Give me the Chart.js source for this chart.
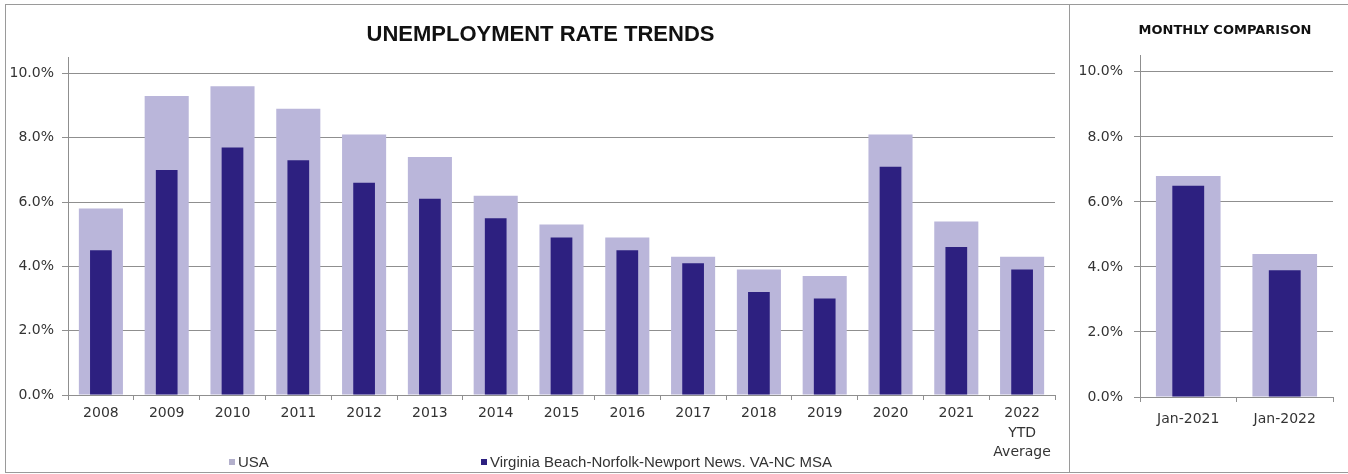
<!DOCTYPE html>
<html>
<head>
<meta charset="utf-8">
<script src="https://cdn.jsdelivr.net/npm/chart.js@4"></script>
<style>
  body { margin: 0; background: #fff; width: 1348px; height: 474px; position: relative; overflow: hidden; }
  .frame { position: absolute; border: 1px solid #9a9a9a; box-sizing: border-box; }
  canvas { position: absolute; }
  .leg { position: absolute; top: 453px; font: 15px "Liberation Sans", Arial, sans-serif; color: #333; white-space: nowrap; line-height: 18px; }
  .leg i { display: inline-block; width: 6px; height: 6px; margin-right: 3px; vertical-align: 2px; }
</style>
</head>
<body>
<div class="frame" style="left:5px;top:4px;width:1065px;height:469px;"></div>
<div class="frame" style="left:1069px;top:4px;width:290px;height:469px;border-right:none;"></div>
<canvas id="trend" width="1063" height="465" style="left:6px;top:5px;"></canvas>
<canvas id="monthly" width="278" height="465" style="left:1070px;top:5px;"></canvas>
<div class="leg" style="left:229px;"><i style="background:#b3b0cc"></i>USA</div>
<div class="leg" style="left:481px;"><i style="background:#2d2080"></i>Virginia Beach-Norfolk-Newport News. VA-NC MSA</div>

<script>
var years = ['2008', '2009', '2010', '2011', '2012', '2013', '2014', '2015', '2016', '2017', '2018', '2019', '2020', '2021', ['2022', 'YTD', 'Average']];
var usaRate = [5.8, 9.3, 9.6, 8.9, 8.1, 7.4, 6.2, 5.3, 4.9, 4.3, 3.9, 3.7, 8.1, 5.4, 4.3];
var msaRate = [4.5, 7.0, 7.7, 7.3, 6.6, 6.1, 5.5, 4.9, 4.5, 4.1, 3.2, 3.0, 7.1, 4.6, 3.9];

var months = ['Jan-2021', 'Jan-2022'];
var usaMonthly = [6.8, 4.4];
var msaMonthly = [6.5, 3.9];

var yTicks = [0, 2, 4, 6, 8, 10];

var usaColor = '#bab6da';
var msaColor = '#2d2080';
var gridColor = '#8f8f8f';
var tickFont = { family: 'DejaVu Sans', size: 14 };

function makeConfig(labels, usa, msa, opts) {
  return {
    type: 'bar',
    data: {
      labels: labels,
      datasets: [
        { label: 'USA', data: usa, backgroundColor: usaColor, barPercentage: 0.67, categoryPercentage: 1, grouped: false, order: 1 },
        { label: 'Virginia Beach-Norfolk-Newport News. VA-NC MSA', data: msa, backgroundColor: msaColor, barPercentage: 0.33, categoryPercentage: 1, grouped: false, order: 0 }
      ]
    },
    plugins: [{
      // nudge the title so it sits where the original one does
      id: 'titleLeft',
      afterLayout: function (chart) {
        if (opts.titleLeft != null) chart.titleBlock.left = opts.titleLeft;
      }
    }],
    options: {
      responsive: false,
      animation: false,
      layout: { padding: opts.padding },
      plugins: {
        legend: { display: false },
        tooltip: { enabled: false },
        title: {
          display: true,
          text: opts.title,
          color: '#111',
          font: opts.titleFont,
          padding: opts.titlePadding
        }
      },
      scales: {
        x: {
          grid: { offset: true, drawOnChartArea: false, color: gridColor, tickLength: 5 },
          border: { color: gridColor },
          ticks: { color: '#333', font: { family: 'DejaVu Sans', size: 14, lineHeight: 1.38 }, padding: opts.xPad, maxRotation: 0, autoSkip: false },
          afterFit: function (s) { s.height = opts.xHeight; }
        },
        y: {
          min: 0,
          max: 10.5,
          afterBuildTicks: function (s) { s.ticks = yTicks.map(function (v) { return { value: v }; }); },
          grid: { color: gridColor, tickLength: 6 },
          border: { color: gridColor },
          ticks: {
            color: '#333',
            font: tickFont,
            padding: opts.yPad,
            callback: function (v) { return v.toFixed(1) + '%'; }
          },
          afterFit: function (s) { s.width = opts.yWidth; }
        }
      }
    }
  };
}

new Chart(document.getElementById('trend'), makeConfig(years, usaRate, msaRate, {
  title: 'UNEMPLOYMENT RATE TRENDS',
  titleFont: { family: 'Liberation Sans', size: 22, weight: 'bold', lineHeight: 1.2 },
  titlePadding: { top: 17, bottom: 9 },
  titleLeft: 20,
  padding: { left: 0, right: 14, top: 0, bottom: 0 },
  xPad: 4, xHeight: 75, yPad: 8, yWidth: 62
}));

new Chart(document.getElementById('monthly'), makeConfig(months, usaMonthly, msaMonthly, {
  title: 'MONTHLY COMPARISON',
  titleFont: { family: 'DejaVu Sans', size: 13, weight: 'bold', lineHeight: 1.2 },
  titlePadding: { top: 18, bottom: 17 },
  titleLeft: 47,
  padding: { left: 0, right: 15, top: 0, bottom: 0 },
  xPad: 8, xHeight: 73, yPad: 11, yWidth: 70
}));
</script>
</body>
</html>
